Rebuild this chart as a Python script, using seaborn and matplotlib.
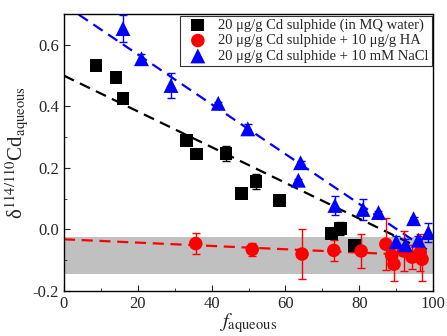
import numpy as np
import pandas as pd
import matplotlib
matplotlib.use('Agg')
import matplotlib.pyplot as plt
import seaborn as sns
from matplotlib.ticker import MultipleLocator

# 数据
mq_x = [8.7, 14.1, 16.0, 33.1, 36.0, 43.9, 48.0, 52.0, 58.3, 72.4, 74.8, 78.6]
mq_y = [0.532, 0.494, 0.425, 0.29, 0.245, 0.246, 0.117, 0.155, 0.095, -0.012, 0.003, -0.052]
mq_err = [0.005, 0.005, 0.015, 0.015, 0.005, 0.025, 0.015, 0.025, 0.005, 0.005, 0.02, 0.015]

ha_x = [35.7, 51.0, 64.5, 73.1, 80.5, 87.2, 88.8, 89.4, 92.0, 94.3, 96.5, 97.0]
ha_y = [-0.046, -0.065, -0.08, -0.068, -0.07, -0.048, -0.085, -0.113, -0.07, -0.09, -0.075, -0.097]
ha_err = [0.035, 0.02, 0.08, 0.035, 0.055, 0.085, 0.04, 0.055, 0.065, 0.04, 0.06, 0.07]

nacl_x = [16.0, 21.0, 29.0, 41.8, 49.8, 63.5, 64.1, 73.4, 81.0, 85.2, 90.0, 92.5, 94.7, 96.0, 98.7]
nacl_y = [0.653, 0.555, 0.468, 0.41, 0.327, 0.16, 0.217, 0.078, 0.065, 0.055, -0.04, -0.05, 0.035, -0.035, -0.01]
nacl_err = [0.045, 0.015, 0.04, 0.005, 0.015, 0.005, 0.005, 0.03, 0.035, 0.005, 0.02, 0.02, 0.005, 0.015, 0.03]

# 拟合线 (截距, 斜率, x 范围)
fit_mq = (0.5, -0.00581, [0, 99])
fit_ha = (-0.032, -0.00054, [0, 97])
fit_nacl = (0.731, -0.0081, [0, 99])

band = (-0.145, -0.025)

labels = ['20 μg/g Cd sulphide (in MQ water)',
          '20 μg/g Cd sulphide + 10 μg/g HA',
          '20 μg/g Cd sulphide + 10 mM NaCl']

sns.set_style('ticks')
plt.rcParams['font.family'] = ['Liberation Serif', 'DejaVu Serif']
plt.rcParams['mathtext.fontset'] = 'stix'
plt.rcParams['xtick.direction'] = 'in'
plt.rcParams['ytick.direction'] = 'in'

fig, ax = plt.subplots(figsize=(4.47, 3.36), dpi=100)
fig.subplots_adjust(left=0.143, right=0.969, bottom=0.134, top=0.958)

ax.axhspan(band[0], band[1], color='#c0c0c0', lw=0, zorder=0)

groups = [(mq_x, mq_y, mq_err, 'black', 's', 85, fit_mq, labels[0]),
          (ha_x, ha_y, ha_err, 'red', 'o', 95, fit_ha, labels[1]),
          (nacl_x, nacl_y, nacl_err, 'blue', '^', 115, fit_nacl, labels[2])]

for x, y, e, c, m, s, fit, lab in groups:
    df = pd.DataFrame({'x': x, 'y': y, 'e': e})
    xs = np.array(fit[2], dtype=float)
    ax.plot(xs, fit[0] + fit[1] * xs, ls=(0, (5, 3)), color=c, lw=1.6, zorder=2)
    ax.errorbar(df['x'], df['y'], yerr=df['e'], fmt='none', ecolor=c,
                elinewidth=1, capsize=3, capthick=1, zorder=3)
    sns.scatterplot(data=df, x='x', y='y', color=c, marker=m, s=s,
                    edgecolor='none', label=lab, ax=ax, zorder=4)

ax.set_xlim(0, 100)
ax.set_ylim(-0.2, 0.7)
ax.xaxis.set_major_locator(MultipleLocator(20))
ax.xaxis.set_minor_locator(MultipleLocator(10))
ax.yaxis.set_minor_locator(MultipleLocator(0.1))
ax.tick_params(which='major', length=4, labelsize=12)
ax.tick_params(which='minor', length=2)
ax.set_yticks([-0.2, 0.0, 0.2, 0.4, 0.6])
ax.set_yticklabels(['-0.2', '0.0', '0.2', '0.4', '0.6'])

ax.set_xlabel(r'$f_{\mathrm{aqueous}}$', fontsize=15, labelpad=0)
ax.set_ylabel('δ$^{114/110}$Cd$_{\\mathrm{aqueous}}$', fontsize=15, labelpad=2)

for sp in ax.spines.values():
    sp.set_linewidth(1)
    sp.set_color('black')

leg = ax.legend(loc='upper right', fontsize=10.5, frameon=True, fancybox=False,
                edgecolor='black', borderaxespad=0.1, handletextpad=0.4,
                labelspacing=0.15, borderpad=0.2, markerscale=1.0)
leg.get_frame().set_linewidth(0.8)

fig.savefig('out.png', dpi=100)
